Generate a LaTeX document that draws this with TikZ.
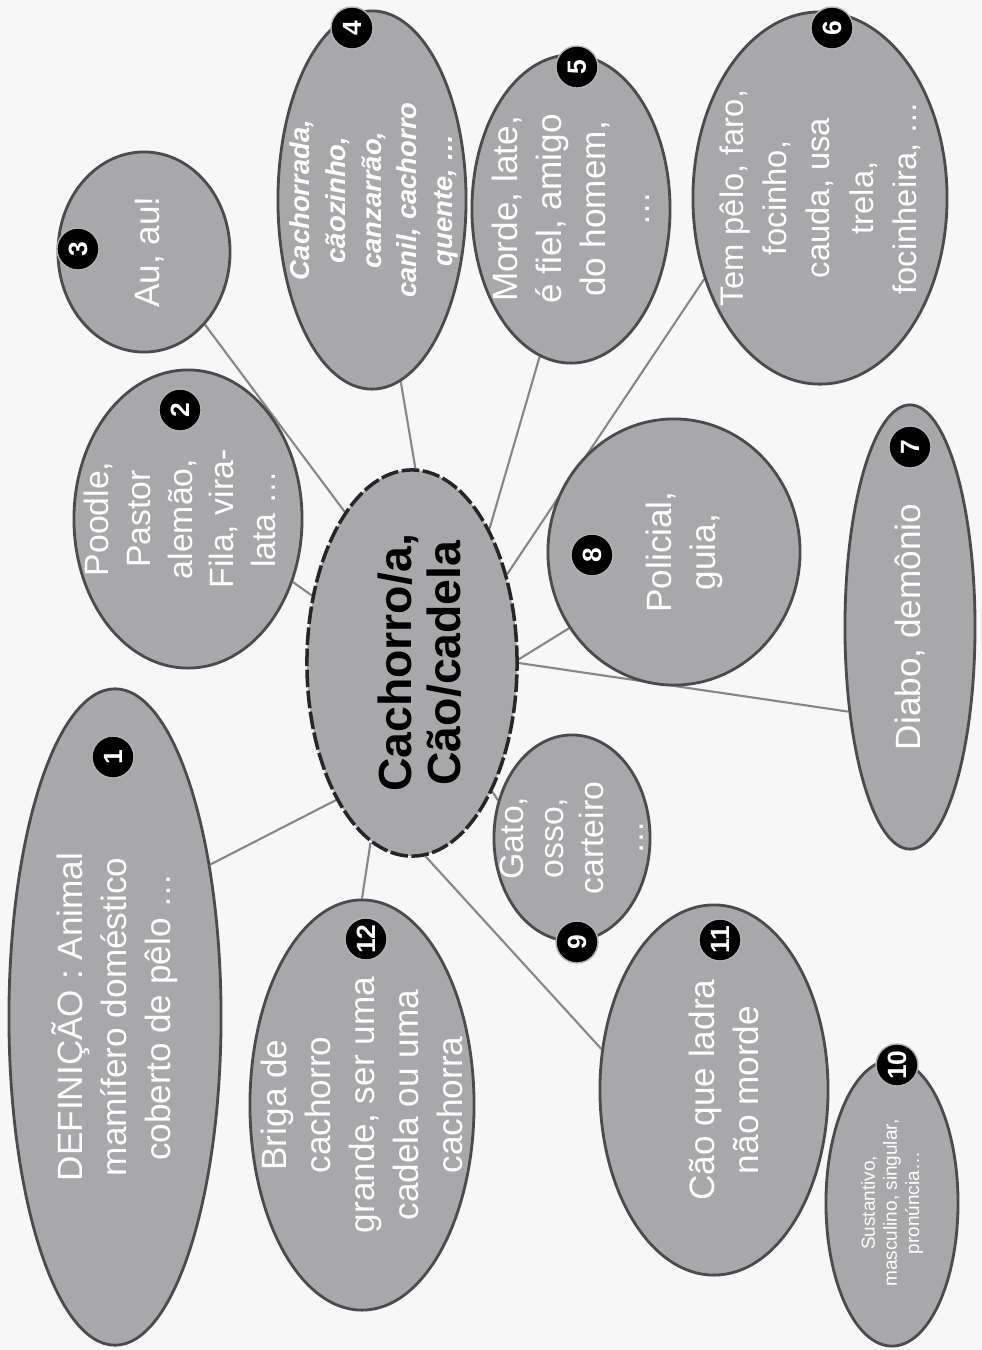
\documentclass[tikz,border=0pt]{standalone}
\usepackage{fontspec}
\setmainfont{Liberation Sans}
\usetikzlibrary{shapes.geometric,backgrounds}

\definecolor{bubblegray}{RGB}{168,168,170}
\definecolor{rimgray}{RGB}{75,75,75}
\definecolor{linkgray}{RGB}{135,135,135}

\begin{document}
\begin{tikzpicture}[x=0.01cm, y=-0.01cm,
    bubble/.style={ellipse, fill=bubblegray, draw=rimgray, line width=0.8pt, inner sep=0pt},
    words/.style={rotate=90, align=center, text=white, font=\fontsize{10}{12.5}\selectfont},
    badge/.style={circle, fill=black, draw=white!70!black, line width=0.4pt, minimum size=0.42cm,
        inner sep=0pt, text=white, font=\bfseries\fontsize{7.5}{8}\selectfont, rotate=90},
    link/.style={draw=linkgray, line width=0.6pt}]
        \useasboundingbox (0,0) rectangle (982,1350);

        \foreach \n/\cx/\cy/\w/\h in {1/115/1017/2.12/6.56, 2/188/519/2.28/2.98, 3/144/252/1.72/2.00,
            4/372/200/1.88/3.78, 5/571/209/1.98/3.08, 6/820/198/2.54/3.72, 7/910/627/1.30/4.44,
            8/674/552/2.52/2.66, 9/572/838/1.56/2.06, 10/892/1203/1.32/2.86, 11/714/1090/2.28/3.70,
            12/362/1105/2.24/4.10}
        {
            \node [bubble, minimum width=\w cm, minimum height=\h cm] (e\n) at (\cx,\cy) {};
        }
        \node [bubble, minimum width=2.10cm, minimum height=3.86cm, dash pattern=on 5pt off 1pt,
            draw=black!85, line width=1pt] (root) at (412,663) {};

        \node [words] (t1) at (e1) {DEFINIÇÃO : Animal\\mamífero doméstico\\coberto de pêlo …};
        \node [words, font=\fontsize{9.6}{11.9}\selectfont] (t2) at ([xshift=-0.08cm]e2.center)
            {Poodle,\\Pastor\\alemão,\\Fila, vira-\\lata …};
        \node [words] (t3) at ([xshift=0.06cm]e3.center) {Au, au!};
        \node [words, font=\bfseries\itshape\fontsize{7.8}{10.2}\selectfont] (t4) at ([xshift=0.02cm]e4.center)
            {Cachorrada,\\cãozinho,\\canzarrão,\\canil, cachorro\\quente, …};
        \node [words] (t5) at (e5) {Morde, late,\\é fiel, amigo\\do homem,\\…};
        \node [words, font=\fontsize{9.3}{12.3}\selectfont] (t6) at (e6)
            {Tem pêlo, faro,\\focinho,\\cauda, usa\\trela,\\focinheira, …};
        \node [words] (t7) at (e7) {Diabo, demônio};
        \node [words] (t8) at ([xshift=0.1cm]e8.center) {Policial,\\guia,};
        \node [words, font=\fontsize{9.6}{11.4}\selectfont] (t9) at (e9) {Gato,\\osso,\\carteiro\\…};
        \node [words, font=\fontsize{5.4}{6.3}\selectfont] (t10) at (e10)
            {Sustantivo,\\masculino, singular,\\pronúncia…};
        \node [words] (t11) at ([xshift=0.1cm]e11.center) {Cão que ladra\\não morde};
        \node [words] (t12) at (e12) {Briga de\\cachorro\\grande, ser uma\\cadela ou uma\\cachorra};
        \node [words, text=black, font=\bfseries\fontsize{13.2}{14}\selectfont] (t0) at ([xshift=0.08cm]root.center)
            {Cachorro/a,\\Cão/cadela};

        \foreach \n/\px/\py in {1/113/757, 2/180/410, 3/78/249, 4/352/28, 5/577/67, 6/832/28,
            7/910/447, 8/592/555, 9/577/942, 10/897/1065, 11/720/940, 12/366/939}
        {
            \node [badge] (b\n) at (\px,\py) {\n};
        }

        \begin{pgfonlayer}{background}
            \fill [black!3] (0,0) rectangle (982,1350);
            \draw [link] (root.241) -- (e1.58);
            \draw [link] (root.146) -- (e2.329);
            \draw [link] (root.114) -- (e3.310);
            \draw [link] (root.89) -- (e4.279);
            \draw [link] (root.60) -- (e5.258);
            \draw [link] (root.43) -- (e6.215);
            \draw [link] (root.0) -- (e7.234);
            \draw [link] (root.2) -- (e8.216);
            \draw [link] (root.302) -- (e9.153);
            \draw [link] (root.274) -- (e11.160);
            \draw [link] (root.257) -- (e12.90);
        \end{pgfonlayer}
    \end{tikzpicture}
\end{document}
